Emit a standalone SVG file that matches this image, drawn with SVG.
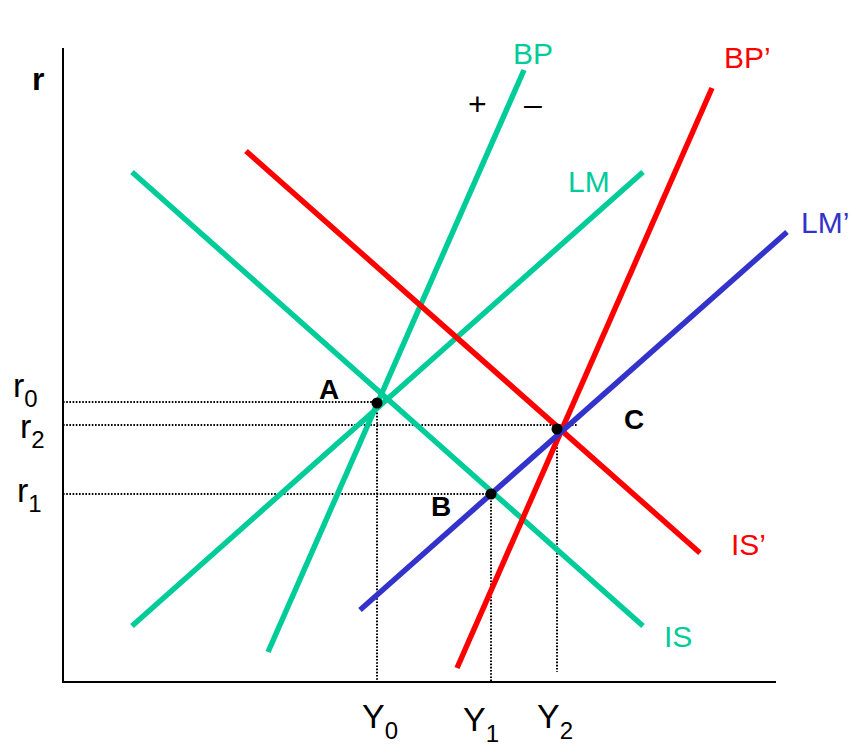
<svg xmlns="http://www.w3.org/2000/svg" width="851" height="748" viewBox="0 0 851 748">
<style>
.ax{stroke:#000;stroke-width:2;fill:none}
.dot{stroke:#000;stroke-width:2;stroke-dasharray:1.6 1.6;fill:none}
.c{stroke-width:5.5;fill:none}
.g{stroke:#00CC99}
.r{stroke:#FF0000}
.b{stroke:#3333CC}
text{font-family:"Liberation Sans",Arial,sans-serif}
.lab{font-size:30px}
.gt{fill:#00CC99}
.rt{fill:#FF0000}
.bt{fill:#3333CC}
.pt{font-size:28px;font-weight:bold;fill:#000}
.ax-t{font-size:34px;fill:#000}
.sub{font-size:24px}
</style>
<rect width="851" height="748" fill="#fff"/>
<g id="axes">
<path class="ax" d="M63,48 V682 H776"/>
</g>
<g id="guides">
<path class="dot" d="M63,402 H377 M63,425 H577 M63,494 H491 M377,403 V682 M491,494 V682 M557,428 V672"/>
</g>
<g id="curves">
<g id="BP"><line class="c g" x1="268" y1="652" x2="524" y2="70"/></g>
<g id="LM"><line class="c g" x1="132" y1="626" x2="643" y2="172"/></g>
<g id="IS"><line class="c g" x1="132" y1="172" x2="643" y2="626"/></g>
<g id="ISp"><line class="c r" x1="246" y1="151" x2="700" y2="553"/></g>
<g id="BPp"><line class="c r" x1="457" y1="668" x2="712" y2="88"/></g>
<g id="LMp"><line class="c b" x1="360" y1="610" x2="787" y2="232"/></g>
</g>
<g id="points">
<g id="A"><circle cx="377" cy="403" r="5.5"/><text class="pt" x="319" y="399">A</text></g>
<g id="B"><circle cx="491" cy="494" r="5.5"/><text class="pt" x="431" y="516">B</text></g>
<g id="C"><circle cx="557" cy="429" r="5.5"/><text class="pt" x="624" y="429">C</text></g>
</g>
<g id="labels">
<text class="pt" x="32" y="90" style="font-size:32px">r</text>
<text class="lab gt" x="513" y="64">BP</text>
<text x="468" y="115" style="font-size:32px">+</text>
<text x="524" y="115" style="font-size:32px">–</text>
<text class="lab gt" x="568" y="192">LM</text>
<text class="lab rt" x="724" y="68">BP’</text>
<text class="lab bt" x="801" y="233">LM’</text>
<text class="lab rt" x="731" y="555">IS’</text>
<text class="lab gt" x="664" y="647">IS</text>
<text class="ax-t" x="13" y="397">r<tspan class="sub" dy="10">0</tspan></text>
<text class="ax-t" x="20" y="438">r<tspan class="sub" dy="10">2</tspan></text>
<text class="ax-t" x="17" y="502">r<tspan class="sub" dy="10">1</tspan></text>
<text class="ax-t" x="362" y="728">Y<tspan class="sub" dy="11">0</tspan></text>
<text class="ax-t" x="463" y="731">Y<tspan class="sub" dy="11">1</tspan></text>
<text class="ax-t" x="537" y="728">Y<tspan class="sub" dy="11">2</tspan></text>
</g>
</svg>
